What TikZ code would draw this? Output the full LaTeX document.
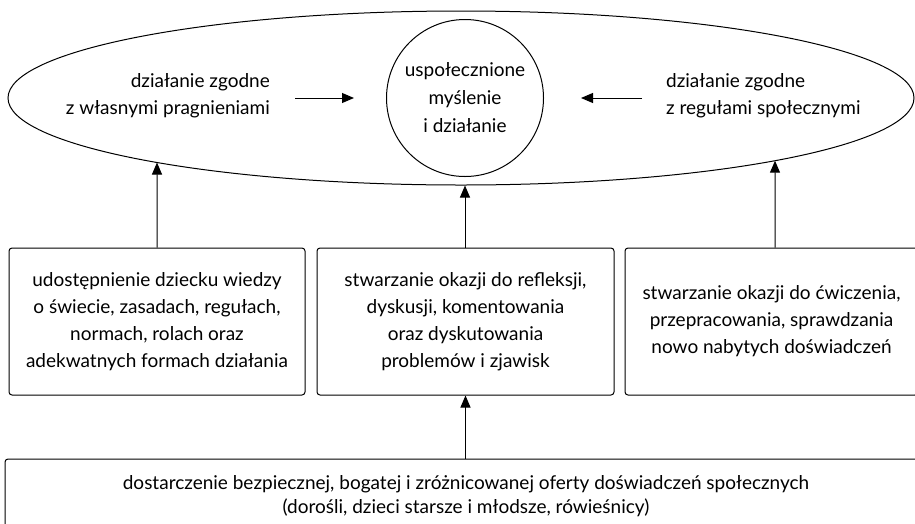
\documentclass[tikz,border=0pt]{standalone}
\usepackage{fontspec}
\setmainfont{Lato}
\usetikzlibrary{shapes.geometric,arrows.meta,intersections}
\begin{document}
\begin{tikzpicture}[x=1pt,y=-1pt,
  lw/.style={line width=1pt},
  arr/.style={lw,-{Triangle[length=12pt,width=10pt]}},
  txt/.style={inner sep=0pt,font=\fontsize{19}{27}\selectfont},
  boxnode/.style={draw,lw,rounded corners=3pt,minimum height=147pt,
    inner sep=0pt,align=center,font=\fontsize{19}{27}\selectfont}
]
\useasboundingbox (0,0) rectangle (915,523);

% outer ellipse and central circle
\node[draw,lw,ellipse,minimum width=906pt,minimum height=174pt,inner sep=0pt,
  name path=eggpath] (egg) at (461,98) {};
\node[draw,lw,circle,minimum size=157pt,inner sep=0pt,align=center,
  font=\fontsize{19}{28}\selectfont] (core) at (465,98)
  {uspołecznione\\myślenie\\i działanie};

% side texts inside the ellipse
\node[txt,align=right,anchor=east] (own) at (270,96)
  {działanie zgodne\\z własnymi pragnieniami};
\node[txt,align=left,anchor=west] (rules) at (666,96)
  {działanie zgodne\\z regułami społecznymi};

\draw[arr] ([xshift=25pt]own.east |- core.west) -- ([xshift=-32pt]core.west);
\draw[arr] ([xshift=-24pt]rules.west |- core.east) -- ([xshift=37pt]core.east);

% middle row of boxes
\node[boxnode,minimum width=296pt] (b1) at (157,321.5)
  {udostępnienie dziecku wiedzy\\o świecie, zasadach, regułach,\\normach, rolach oraz\\adekwatnych formach działania};
\node[boxnode,minimum width=297pt] (b2) at (465.5,321.5)
  {stwarzanie okazji do refleksji,\\dyskusji, komentowania\\oraz dyskutowania\\problemów i zjawisk};
\node[boxnode,minimum width=293pt] (b3) at (771.5,321.5)
  {stwarzanie okazji do ćwiczenia,\\przepracowania, sprawdzania\\nowo nabytych doświadczeń};

% bottom box
\node[draw,lw,rounded corners=3pt,minimum width=922pt,minimum height=100pt,
  inner sep=0pt] (base) at (466,509) {};
\node[inner sep=0pt,align=center,font=\fontsize{19}{24}\selectfont]
  (basetxt) at (466,496)
  {dostarczenie bezpiecznej, bogatej i zróżnicowanej oferty doświadczeń społecznych\\(dorośli, dzieci starsze i młodsze, rówieśnicy)};

% upward connectors
\path[name path=up1] (b1.north) -- ++(0,-200);
\path[name path=up3] ([xshift=3.5pt]b3.north) -- ++(0,-200);
\draw[arr,name intersections={of=up1 and eggpath,by=t1}] (b1.north) -- (t1);
\draw[arr,name intersections={of=up3 and eggpath,by=t3}] ([xshift=3.5pt]b3.north) -- (t3);
\draw[arr] (b2.north -| core.south) -- (core.south |- egg.south);
\draw[arr] (base.north -| b2.south) -- (b2.south);
\end{tikzpicture}
\end{document}
